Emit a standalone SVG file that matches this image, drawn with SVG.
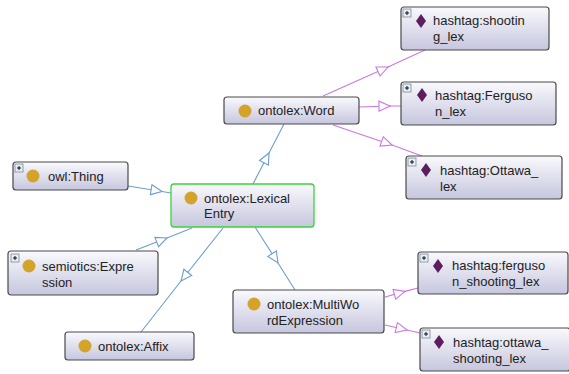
<svg xmlns="http://www.w3.org/2000/svg" width="569" height="374" viewBox="0 0 569 374">
<style>
.box{fill:url(#g);stroke:#4a4a4a;stroke-width:1.2}
.sel{fill:url(#g);stroke:#3ad43a;stroke-width:1.3}
.t{font-family:"Liberation Sans",Arial,sans-serif;font-size:13px;fill:#222}
.cls{fill:#d4a32c}
.ind{fill:#5e1d5e}
.pb{fill:#e8eef6;stroke:#7a8a9a;stroke-width:0.8}
.pl{stroke:#111;stroke-width:1}
.eb{fill:none;stroke:#6f9dcf;stroke-width:1.1;marker-mid:url(#ab)}
.ep{fill:none;stroke:#c978e2;stroke-width:1.1;marker-mid:url(#ap)}
</style>
<defs>
<linearGradient id="g" x1="0" y1="0" x2="0" y2="1">
<stop offset="0" stop-color="#f9f9fd"/>
<stop offset="1" stop-color="#c6c6de"/>
</linearGradient>
<marker id="ab" viewBox="-13 -7 14 14" refX="0" refY="0" markerWidth="14" markerHeight="14" markerUnits="userSpaceOnUse" orient="auto">
<path d="M0,0 L-11,-5 L-11,5 Z" fill="#fff" stroke="#6f9dcf" stroke-width="1.1"/>
</marker>
<marker id="ap" viewBox="-13 -7 14 14" refX="0" refY="0" markerWidth="14" markerHeight="14" markerUnits="userSpaceOnUse" orient="auto">
<path d="M0,0 L-11,-5 L-11,5 Z" fill="#fff" stroke="#c978e2" stroke-width="1.1"/>
</marker>
</defs>
<g id="connectors">
<path class="ep" d="M323,96 L388,67 L425,50"/>
<path class="ep" d="M359,107 L390,106 L401,106"/>
<path class="ep" d="M333,125 L392,145 L422,156"/>
<path class="eb" d="M253,184 L269,153 L284,124"/>
<path class="eb" d="M128,186 L162,191.5 L171,193"/>
<path class="eb" d="M136,250 L167,238 L192,228"/>
<path class="eb" d="M223,228 L181,281 L141,332"/>
<path class="eb" d="M255,227 L278,263 L295,290"/>
<path class="ep" d="M385,297 L405,291.4 L418,288"/>
<path class="ep" d="M385,325 L407,330 L420,333"/>
</g>
<g id="n-shooting">
<rect class="box" x="401" y="7" width="148" height="43" rx="3"/>
<rect class="pb" x="403" y="9" width="8" height="8"/><path class="pl" d="M405,13 H409 M407,11 V15"/>
<path class="ind" d="M421,14 L426,21 L421,28 L416,21 Z"/>
<text class="t" x="433" y="25">hashtag:shootin</text>
<text class="t" x="433" y="41">g_lex</text>
</g>
<g id="n-ferguson">
<rect class="box" x="401" y="82" width="155" height="43" rx="3"/>
<rect class="pb" x="403" y="84" width="8" height="8"/><path class="pl" d="M405,88 H409 M407,86 V90"/>
<path class="ind" d="M422,88 L427,95 L422,102 L417,95 Z"/>
<text class="t" x="435" y="100">hashtag:Ferguso</text>
<text class="t" x="435" y="116">n_lex</text>
</g>
<g id="n-ottawa">
<rect class="box" x="406" y="156" width="156" height="43" rx="3"/>
<rect class="pb" x="408" y="158" width="8" height="8"/><path class="pl" d="M410,162 H414 M412,160 V164"/>
<path class="ind" d="M426,163 L431,170 L426,177 L421,170 Z"/>
<text class="t" x="440" y="175">hashtag:Ottawa_</text>
<text class="t" x="440" y="191">lex</text>
</g>
<g id="n-word">
<rect class="box" x="224" y="97" width="135" height="27" rx="3"/>
<circle class="cls" cx="245" cy="111" r="6.5"/>
<text class="t" x="258" y="115">ontolex:Word</text>
</g>
<g id="n-lexicalentry">
<rect class="sel" x="171" y="184" width="143" height="43" rx="3"/>
<circle class="cls" cx="191" cy="198" r="6.5"/>
<text class="t" x="204" y="203">ontolex:Lexical</text>
<text class="t" x="204" y="218">Entry</text>
</g>
<g id="n-thing">
<rect class="box" x="13" y="162" width="115" height="28" rx="3"/>
<rect class="pb" x="15" y="164" width="8" height="8"/><path class="pl" d="M17,168 H21 M19,166 V170"/>
<circle class="cls" cx="33" cy="176" r="6.5"/>
<text class="t" x="48" y="181">owl:Thing</text>
</g>
<g id="n-expression">
<rect class="box" x="8" y="251" width="150" height="44" rx="3"/>
<rect class="pb" x="11" y="254" width="8" height="8"/><path class="pl" d="M13,258 H17 M15,256 V260"/>
<circle class="cls" cx="29" cy="266" r="6.5"/>
<text class="t" x="42" y="271">semiotics:Expre</text>
<text class="t" x="42" y="287">ssion</text>
</g>
<g id="n-affix">
<rect class="box" x="65" y="332" width="129" height="28" rx="3"/>
<circle class="cls" cx="85" cy="346" r="6.5"/>
<text class="t" x="98" y="351">ontolex:Affix</text>
</g>
<g id="n-mwe">
<rect class="box" x="233" y="290" width="151" height="43" rx="3"/>
<circle class="cls" cx="254" cy="304" r="6.5"/>
<text class="t" x="267" y="309">ontolex:MultiWo</text>
<text class="t" x="267" y="325">rdExpression</text>
</g>
<g id="n-ferguson-shooting">
<rect class="box" x="418" y="252" width="150" height="42" rx="3"/>
<rect class="pb" x="420" y="254" width="8" height="8"/><path class="pl" d="M422,258 H426 M424,256 V260"/>
<path class="ind" d="M438,259 L443,266 L438,273 L433,266 Z"/>
<text class="t" x="452" y="270">hashtag:ferguso</text>
<text class="t" x="452" y="286">n_shooting_lex</text>
</g>
<g id="n-ottawa-shooting">
<rect class="box" x="420" y="328" width="150" height="43" rx="3"/>
<rect class="pb" x="422" y="330" width="8" height="8"/><path class="pl" d="M424,334 H428 M426,332 V336"/>
<path class="ind" d="M439,335 L444,342 L439,349 L434,342 Z"/>
<text class="t" x="453" y="347">hashtag:ottawa_</text>
<text class="t" x="453" y="363">shooting_lex</text>
</g>
</svg>
